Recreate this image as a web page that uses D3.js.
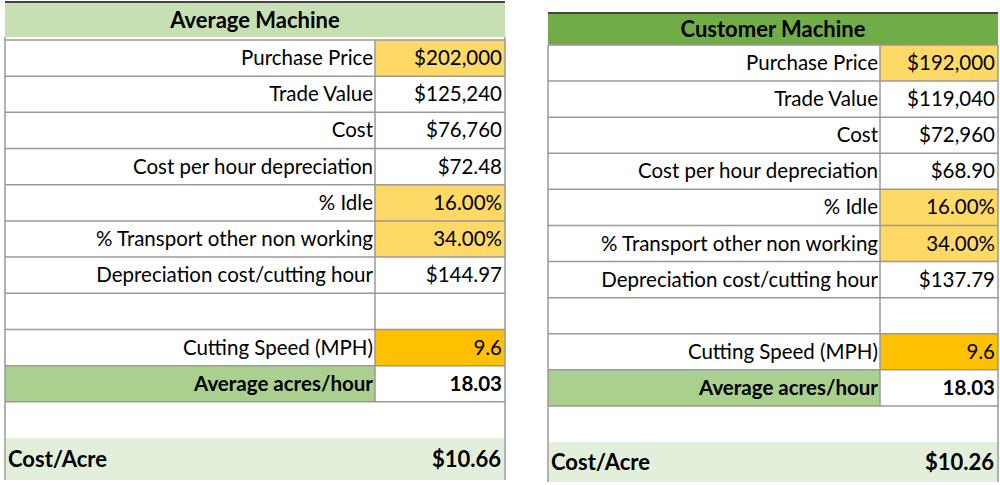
<!DOCTYPE html>
<html><head><meta charset="utf-8">
<script src="https://cdn.jsdelivr.net/npm/d3@7"></script>
<style>body{margin:0;background:#fff}svg{display:block}text{font-family:Lato,"Noto Sans",sans-serif}</style>
</head><body><svg id="c" width="1000" height="485"></svg>
<script>
const labels=["Purchase Price","Trade Value","Cost","Cost per hour depreciation","% Idle","% Transport other non working","Depreciation cost/cutting hour","","Cutting Speed (MPH)","Average acres/hour","","Cost/Acre"];
const averageValues=["$202,000","$125,240","$76,760","$72.48","16.00%","34.00%","$144.97","","9.6","18.03","","$10.66"];
const customerValues=["$192,000","$119,040","$72,960","$68.90","16.00%","34.00%","$137.79","","9.6","18.03","","$10.26"];
const titles=["Average Machine","Customer Machine"];
const valueFill=["#ffd966","","","","#ffd966","#ffd966","","","#ffc000","","",""];
const svg=d3.select("#c");
const tables=[
 {title:titles[0],vals:averageValues,x0:5,x1:375,x2:505,hy0:2,hy1:37,y0:40,y1:438,cy1:480,hfill:"#c6e0b4"},
 {title:titles[1],vals:customerValues,x0:548,x1:880,x2:998,hy0:13,hy1:45,y0:45,y1:442,cy1:482,hfill:"#70ad47"}
];
tables.forEach(t=>{
 const g=svg.append("g");
 const y=d3.scaleBand().domain(d3.range(11)).range([t.y0,t.y1]);
 g.append("rect").attr("x",t.x0).attr("y",t.hy0).attr("width",t.x2-t.x0).attr("height",t.hy1-t.hy0).attr("fill",t.hfill);
 g.append("line").attr("x1",t.x0).attr("x2",t.x2).attr("y1",t.hy0).attr("y2",t.hy0).attr("stroke","#444").attr("stroke-width",2);
 g.append("text").attr("x",(t.x0+t.x2)/2).attr("y",(t.hy0+t.hy1)/2+8).attr("text-anchor","middle").attr("font-weight","bold").attr("font-size",22).text(t.title);
 const bw=y.bandwidth();
 d3.range(10).forEach(i=>{
  const yy=y(i);
  if(i===9) g.append("rect").attr("x",t.x0).attr("y",yy).attr("width",t.x1-t.x0).attr("height",bw).attr("fill","#a9d08e");
  if(valueFill[i]) g.append("rect").attr("x",t.x1).attr("y",yy).attr("width",t.x2-t.x1).attr("height",bw).attr("fill",valueFill[i]);
  g.append("line").attr("x1",t.x0).attr("x2",t.x2).attr("y1",yy).attr("y2",yy).attr("stroke","#999").attr("stroke-width",1.5);
  if(labels[i]){
   const b=i===9?"bold":"normal";
   g.append("text").attr("x",t.x1-2).attr("y",yy+bw/2+7).attr("text-anchor","end").attr("font-size",20.5).attr("font-weight",b).text(labels[i]);
   g.append("text").attr("x",t.x2-3).attr("y",yy+bw/2+7).attr("text-anchor","end").attr("font-size",20.5).attr("font-weight",b).text(t.vals[i]);
  }
 });
 const yEnd=y(10)+bw;
 g.append("line").attr("x1",t.x0).attr("x2",t.x2).attr("y1",y(10)).attr("y2",y(10)).attr("stroke","#999").attr("stroke-width",1.5);
 g.append("line").attr("x1",t.x1).attr("x2",t.x1).attr("y1",t.y0).attr("y2",y(10)).attr("stroke","#999").attr("stroke-width",1.5);
 g.append("line").attr("x1",t.x0).attr("x2",t.x0).attr("y1",t.hy1).attr("y2",t.cy1).attr("stroke","#999").attr("stroke-width",1.5);
 g.append("line").attr("x1",t.x2).attr("x2",t.x2).attr("y1",t.hy1).attr("y2",t.cy1).attr("stroke","#999").attr("stroke-width",1.5);
 g.append("rect").attr("x",t.x0+1).attr("y",yEnd).attr("width",t.x2-t.x0-2).attr("height",t.cy1-yEnd).attr("fill","#e2efda");
 g.append("text").attr("x",t.x0+3).attr("y",(yEnd+t.cy1)/2+8).attr("font-size",22).attr("font-weight","bold").text(labels[11]);
 g.append("text").attr("x",t.x2-4).attr("y",(yEnd+t.cy1)/2+8).attr("text-anchor","end").attr("font-size",22).attr("font-weight","bold").text(t.vals[11]);
});
</script></body></html>
